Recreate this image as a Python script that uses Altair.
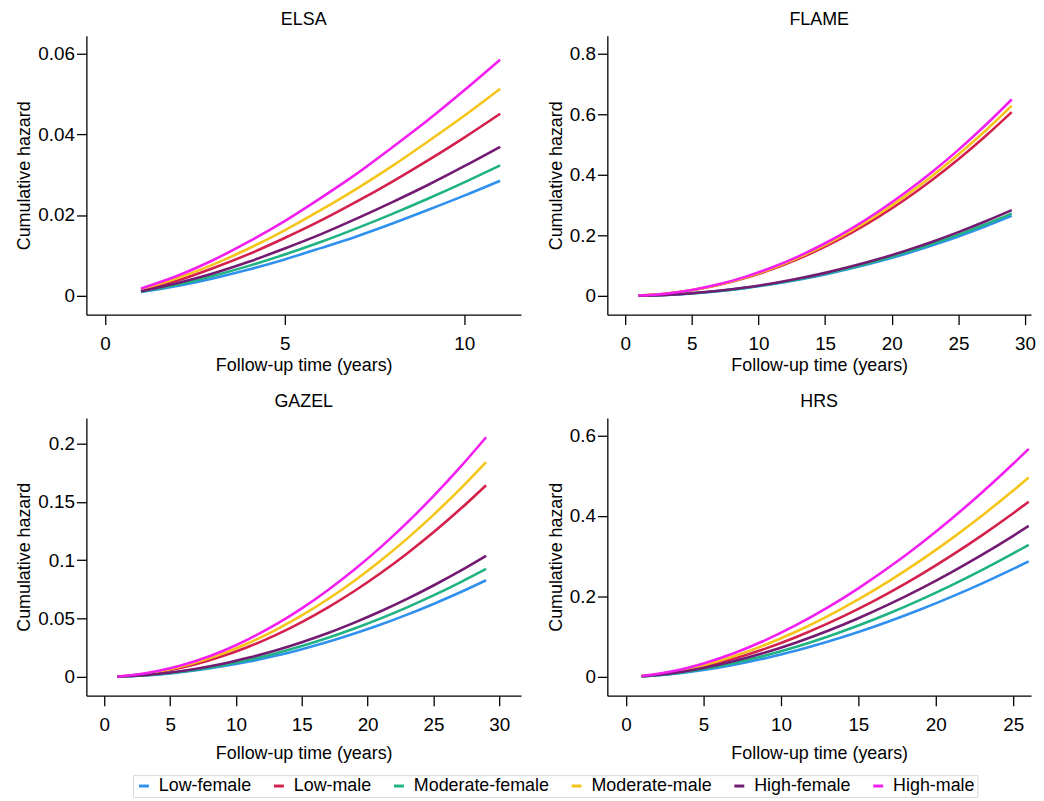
import altair as alt
import pandas as pd

groups = ["Low-female", "Low-male", "Moderate-female", "Moderate-male", "High-female", "High-male"]
colors = ["#3090ee", "#d4204c", "#1fb283", "#f6c519", "#731a72", "#f21ff0"]

# ---------------- ELSA ----------------
elsa_t = [1, 2, 3, 4, 5, 6, 7, 8, 9, 10, 11]
elsa = {
    "Low-female":      [0.0009, 0.0024, 0.0043, 0.0065, 0.0090, 0.0118, 0.0147, 0.0179, 0.0213, 0.0248, 0.0285],
    "Low-male":        [0.0014, 0.0037, 0.0068, 0.0103, 0.0143, 0.0186, 0.0233, 0.0283, 0.0336, 0.0392, 0.0451],
    "Moderate-female": [0.0010, 0.0027, 0.0049, 0.0074, 0.0102, 0.0133, 0.0167, 0.0203, 0.0241, 0.0281, 0.0323],
    "Moderate-male":   [0.0016, 0.0043, 0.0077, 0.0117, 0.0162, 0.0212, 0.0265, 0.0322, 0.0383, 0.0446, 0.0513],
    "High-female":     [0.0011, 0.0031, 0.0055, 0.0084, 0.0117, 0.0152, 0.0191, 0.0232, 0.0275, 0.0321, 0.0369],
    "High-male":       [0.0018, 0.0049, 0.0088, 0.0134, 0.0185, 0.0242, 0.0302, 0.0368, 0.0436, 0.0509, 0.0585],
}

# ---------------- FLAME ----------------
flame_t = [1, 3, 5, 7, 9, 11, 13, 15, 17, 19, 21, 23, 25, 27, 29]
flame = {
    "Low-female":      [0.0003, 0.0028, 0.0079, 0.0154, 0.0254, 0.0380, 0.0531, 0.0706, 0.0907, 0.1133, 0.1384, 0.1661, 0.1962, 0.2288, 0.264],
    "Low-male":        [0.0007, 0.0065, 0.0180, 0.0354, 0.0585, 0.0873, 0.1220, 0.1624, 0.2086, 0.2606, 0.3183, 0.3818, 0.4511, 0.5262, 0.607],
    "Moderate-female": [0.0003, 0.0029, 0.0081, 0.0159, 0.0262, 0.0391, 0.0547, 0.0728, 0.0935, 0.1168, 0.1426, 0.1711, 0.2021, 0.2358, 0.272],
    "Moderate-male":   [0.0007, 0.0067, 0.0187, 0.0366, 0.0605, 0.0904, 0.1262, 0.1680, 0.2158, 0.2696, 0.3293, 0.3950, 0.4667, 0.5444, 0.628],
    "High-female":     [0.0003, 0.0030, 0.0084, 0.0165, 0.0273, 0.0407, 0.0569, 0.0757, 0.0973, 0.1215, 0.1484, 0.1780, 0.2103, 0.2453, 0.283],
    "High-male":       [0.0008, 0.0069, 0.0193, 0.0378, 0.0625, 0.0934, 0.1304, 0.1736, 0.2230, 0.2786, 0.3403, 0.4082, 0.4823, 0.5626, 0.649],
}

# ---------------- GAZEL ----------------
gazel_t = [1, 3, 5, 7, 9, 11, 13, 15, 17, 19, 21, 23, 25, 27, 29]
gazel = {
    "Low-female":      [0.0001, 0.0011, 0.0029, 0.0056, 0.0090, 0.0131, 0.0180, 0.0237, 0.0300, 0.0371, 0.0448, 0.0533, 0.0625, 0.0723, 0.0828],
    "Low-male":        [0.0003, 0.0022, 0.0058, 0.0110, 0.0178, 0.0260, 0.0358, 0.0470, 0.0596, 0.0736, 0.0890, 0.1058, 0.1239, 0.1434, 0.1643],
    "Moderate-female": [0.0002, 0.0012, 0.0033, 0.0062, 0.0100, 0.0147, 0.0201, 0.0264, 0.0335, 0.0414, 0.0501, 0.0596, 0.0698, 0.0808, 0.0925],
    "Moderate-male":   [0.0003, 0.0025, 0.0065, 0.0124, 0.0199, 0.0292, 0.0401, 0.0526, 0.0667, 0.0824, 0.0997, 0.1185, 0.1389, 0.1607, 0.1841],
    "High-female":     [0.0002, 0.0014, 0.0037, 0.0070, 0.0112, 0.0165, 0.0226, 0.0297, 0.0376, 0.0465, 0.0562, 0.0668, 0.0783, 0.0906, 0.1038],
    "High-male":       [0.0003, 0.0028, 0.0073, 0.0138, 0.0222, 0.0326, 0.0447, 0.0587, 0.0745, 0.0920, 0.1112, 0.1322, 0.1549, 0.1793, 0.2054],
}

# ---------------- HRS ----------------
hrs_t = [1, 3, 5, 7, 9, 11, 13, 15, 17, 19, 21, 23, 25, 26]
hrs = {
    "Low-female":      [0.0011, 0.0070, 0.0169, 0.0301, 0.0463, 0.0654, 0.0872, 0.1115, 0.1383, 0.1674, 0.1989, 0.2326, 0.2685, 0.2872],
    "Low-male":        [0.0016, 0.0106, 0.0256, 0.0456, 0.0702, 0.0992, 0.1322, 0.1691, 0.2097, 0.2538, 0.3016, 0.3526, 0.4070, 0.4354],
    "Moderate-female": [0.0012, 0.0080, 0.0193, 0.0344, 0.0530, 0.0748, 0.0997, 0.1275, 0.1581, 0.1915, 0.2274, 0.2660, 0.3070, 0.3284],
    "Moderate-male":   [0.0018, 0.0121, 0.0291, 0.0519, 0.0799, 0.1128, 0.1504, 0.1924, 0.2386, 0.2889, 0.3432, 0.4013, 0.4632, 0.4955],
    "High-female":     [0.0014, 0.0092, 0.0220, 0.0393, 0.0605, 0.0855, 0.1139, 0.1457, 0.1807, 0.2188, 0.2599, 0.3039, 0.3508, 0.3753],
    "High-male":       [0.0021, 0.0138, 0.0333, 0.0593, 0.0914, 0.1291, 0.1721, 0.2202, 0.2730, 0.3306, 0.3927, 0.4592, 0.5300, 0.5670],
}

panels = [
    ("ELSA", elsa_t, elsa, [-0.52, 11.58], [0, 5, 10], [-0.0047, 0.0644], [0, 0.02, 0.04, 0.06], 438, 3),
    ("FLAME", flame_t, flame, [-1.34, 30.45], [0, 5, 10, 15, 20, 25, 30], [-0.0625, 0.859], [0, 0.2, 0.4, 0.6, 0.8], 427, 3),
    ("GAZEL", gazel_t, gazel, [-1.36, 31.65], [0, 5, 10, 15, 20, 25, 30], [-0.0162, 0.222], [0, 0.05, 0.1, 0.15, 0.2], 438, 10),
    ("HRS", hrs_t, hrs, [-1.21, 26.15], [0, 5, 10, 15, 20, 25], [-0.047, 0.644], [0, 0.2, 0.4, 0.6], 427, 10),
]

FONT = "Liberation Sans"


def make_panel(name, ts, series, xdom, xticks, ydom, yticks, w, xtp):
    rows = []
    for g in groups:
        for t, v in zip(ts, series[g]):
            rows.append({"t": t, "h": v, "group": g})
    df = pd.DataFrame(rows)
    return (
        alt.Chart(df)
        .mark_line(strokeWidth=2.6, interpolate="monotone")
        .encode(
            x=alt.X("t:Q", title="Follow-up time (years)",
                    scale=alt.Scale(domain=xdom, nice=False, zero=False),
                    axis=alt.Axis(values=xticks, format="~r", labelPadding=10, titlePadding=xtp)),
            y=alt.Y("h:Q", title="Cumulative hazard",
                    scale=alt.Scale(domain=ydom, nice=False, zero=False),
                    axis=alt.Axis(values=yticks, format="~r", labelPadding=2, titlePadding=4)),
            color=alt.Color("group:N", sort=groups,
                            scale=alt.Scale(domain=groups, range=colors),
                            legend=alt.Legend(title=None, orient="none", direction="horizontal",
                                              legendX=47, legendY=745)),
            detail="group:N",
        )
        .properties(width=w, height=281 if name in ("ELSA", "FLAME") else 280,
                    title=alt.TitleParams(name, anchor="middle", offset=7))
    )


charts = [make_panel(*p) for p in panels]

chart = (
    alt.concat(*charts, columns=2, spacing={"row": 19, "column": 26})
    .configure(font=FONT, padding={"left": 8, "top": 0, "right": 0, "bottom": 0})
    .configure_view(stroke=None)
    .configure_axis(
        grid=False, domainColor="#000000", domainWidth=1.3, tickColor="#000000", tickWidth=1.3,
        tickSize=10, labelFontSize=19, titleFontSize=18, titleFontWeight="normal",
        labelColor="#000000", titleColor="#000000", labelFont=FONT, titleFont=FONT,
    )
    .configure_title(fontSize=18, fontWeight="normal", font=FONT, color="#000000")
    .configure_legend(
        symbolType="stroke", symbolStrokeWidth=3, symbolSize=100, labelFontSize=18,
        labelFont=FONT, labelColor="#000000", labelOffset=6, columnPadding=16,
        strokeColor="#d8d8d8", padding=2, fillColor="#ffffff",
    )
)

chart.save("out.html", embed_options={"renderer": "svg", "actions": False})
